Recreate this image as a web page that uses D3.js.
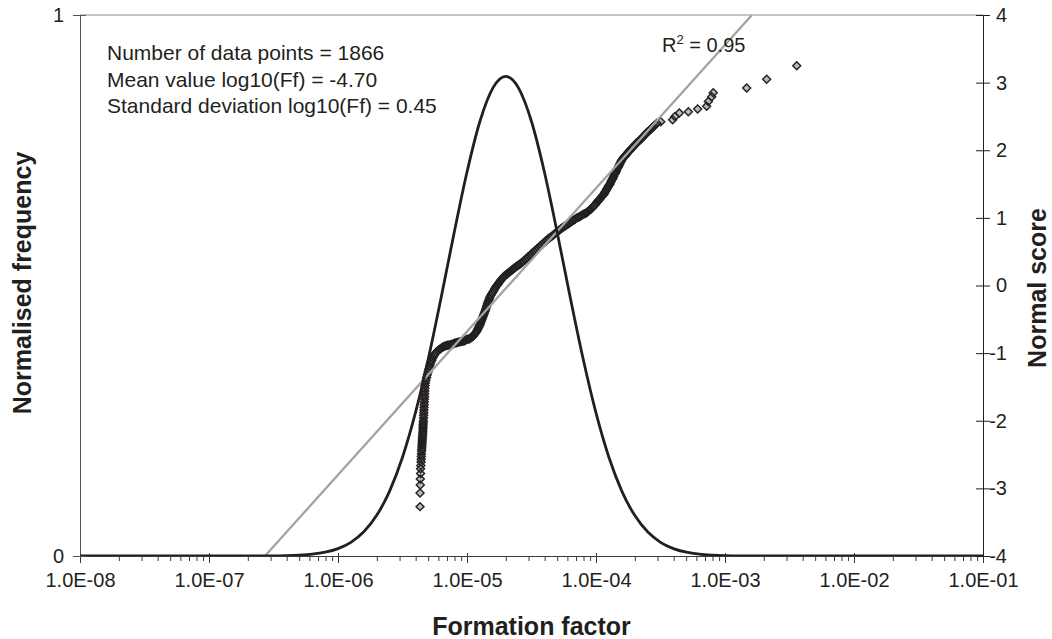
<!DOCTYPE html>
<html>
<head>
<meta charset="utf-8">
<script src="https://cdn.jsdelivr.net/npm/d3@7"></script>
<style>
body { margin: 0; background: #fff; }
svg text { font-family: "Liberation Sans", Arial, sans-serif; fill: #231f20; }
</style>
</head>
<body>
<svg id="chart" width="1052" height="639"></svg>
<script>
/* global d3 */
// tick values
var xTicks = [1e-8, 1e-7, 1e-6, 1e-5, 1e-4, 1e-3, 1e-2, 1e-1]
var freqTicks = [0, 1]
var scoreTicks = [-4, -3, -2, -1, 0, 1, 2, 3, 4]

// normal curve: [log10(Ff), normalised frequency]
var normalCurve = [
    [-8, 0], [-6.7, 0.0000], [-6.6, 0.0001], [-6.5, 0.0003], [-6.4, 0.0007], [-6.3, 0.0016],
    [-6.2, 0.0034], [-6.1, 0.0070], [-6.0, 0.0137], [-5.9, 0.0253], [-5.8, 0.0447],
    [-5.7, 0.0751], [-5.6, 0.1200], [-5.5, 0.1825], [-5.4, 0.2644], [-5.3, 0.3645],
    [-5.2, 0.4782], [-5.1, 0.5971], [-5.0, 0.7098], [-4.9, 0.8032], [-4.8, 0.8649],
    [-4.7, 0.8865],
    [-4.6, 0.8649], [-4.5, 0.8032], [-4.4, 0.7098], [-4.3, 0.5971], [-4.2, 0.4782],
    [-4.1, 0.3645], [-4.0, 0.2644], [-3.9, 0.1825], [-3.8, 0.1200], [-3.7, 0.0751],
    [-3.6, 0.0447], [-3.5, 0.0253], [-3.4, 0.0137], [-3.3, 0.0070], [-3.2, 0.0034],
    [-3.1, 0.0016], [-3.0, 0.0007], [-2.9, 0.0003], [-2.8, 0.0001], [-2.7, 0.0000], [-1, 0]
]

// trend line ends: [log10(Ff), normal score]
var trendLine = [[-6.566, -4], [-2.791, 4]]

// normal score points: [log10(Ff), normal score]
var scorePoints = [
    [-5.364, -3.27], [-5.364, -3.07], [-5.362, -2.95], [-5.362, -2.86], [-5.360, -2.78],
    [-5.360, -2.71], [-5.358, -2.66], [-5.356, -2.61], [-5.355, -2.57], [-5.354, -2.53],
    [-5.353, -2.49], [-5.352, -2.45], [-5.351, -2.42], [-5.350, -2.39], [-5.349, -2.36],
    [-5.348, -2.33], [-5.347, -2.30], [-5.346, -2.27], [-5.345, -2.24], [-5.344, -2.21],
    [-5.343, -2.18], [-5.342, -2.15], [-5.341, -2.12], [-5.341, -2.09], [-5.340, -2.06],
    [-5.339, -2.03], [-5.338, -2.00], [-5.337, -1.96], [-5.336, -1.92], [-5.335, -1.88],
    [-5.334, -1.84], [-5.333, -1.80], [-5.332, -1.76], [-5.331, -1.72], [-5.330, -1.68],
    [-5.329, -1.64], [-5.328, -1.60], [-5.327, -1.56], [-5.326, -1.52], [-5.325, -1.48],
    [-5.323, -1.44], [-5.313, -1.36], [-5.302, -1.28], [-5.290, -1.20], [-5.279, -1.13],
    [-5.264, -1.07], [-5.248, -1.01], [-5.229, -0.97], [-5.209, -0.94], [-5.186, -0.91],
    [-5.163, -0.89], [-5.140, -0.88], [-5.116, -0.87], [-5.093, -0.85], [-5.070, -0.84],
    [-5.047, -0.83], [-5.023, -0.82], [-5.003, -0.80], [-4.984, -0.79], [-4.968, -0.77],
    [-4.953, -0.75], [-4.937, -0.71], [-4.922, -0.67], [-4.910, -0.62], [-4.899, -0.58],
    [-4.890, -0.53], [-4.880, -0.48], [-4.870, -0.43], [-4.860, -0.38], [-4.850, -0.32],
    [-4.841, -0.27], [-4.832, -0.22], [-4.822, -0.17], [-4.807, -0.12], [-4.791, -0.07],
    [-4.776, -0.02], [-4.760, 0.02], [-4.745, 0.06], [-4.729, 0.10], [-4.710, 0.14],
    [-4.690, 0.17], [-4.670, 0.20], [-4.651, 0.23], [-4.632, 0.26], [-4.612, 0.29],
    [-4.593, 0.31], [-4.574, 0.34], [-4.550, 0.38], [-4.527, 0.42], [-4.504, 0.46],
    [-4.481, 0.50], [-4.458, 0.54], [-4.434, 0.58], [-4.411, 0.62], [-4.388, 0.66],
    [-4.365, 0.70], [-4.341, 0.73], [-4.322, 0.76], [-4.302, 0.79], [-4.283, 0.82],
    [-4.264, 0.85], [-4.240, 0.88], [-4.217, 0.91], [-4.194, 0.94], [-4.171, 0.97],
    [-4.148, 1.00], [-4.124, 1.02], [-4.101, 1.05], [-4.078, 1.07], [-4.058, 1.10],
    [-4.039, 1.13], [-4.020, 1.17], [-4.000, 1.21], [-3.985, 1.25], [-3.969, 1.28],
    [-3.954, 1.32], [-3.938, 1.35], [-3.927, 1.39], [-3.915, 1.43], [-3.903, 1.47],
    [-3.891, 1.50], [-3.880, 1.55], [-3.868, 1.59], [-3.857, 1.64], [-3.845, 1.68],
    [-3.834, 1.73], [-3.822, 1.77], [-3.810, 1.82], [-3.798, 1.86], [-3.783, 1.90],
    [-3.767, 1.93], [-3.752, 1.97], [-3.736, 2.00], [-3.717, 2.04], [-3.698, 2.08],
    [-3.679, 2.12], [-3.659, 2.15], [-3.640, 2.19], [-3.620, 2.23], [-3.601, 2.27],
    [-3.581, 2.30], [-3.566, 2.33], [-3.550, 2.36], [-3.527, 2.40],
    [-3.498, 2.42], [-3.406, 2.45], [-3.388, 2.50], [-3.354, 2.55], [-3.284, 2.57],
    [-3.212, 2.61], [-3.142, 2.65], [-3.129, 2.72], [-3.103, 2.79], [-3.091, 2.85],
    [-2.832, 2.92], [-2.677, 3.05], [-2.444, 3.25]
]

// further points inside the dense part of the band
var bandPoints = [
    [-5.318, -1.40], [-5.308, -1.32], [-5.296, -1.24], [-5.285, -1.165], [-5.272, -1.10],
    [-5.256, -1.04], [-5.239, -0.99], [-5.219, -0.955], [-5.198, -0.925], [-5.175, -0.90],
    [-5.152, -0.885], [-5.128, -0.875], [-5.105, -0.86], [-5.082, -0.845], [-5.059, -0.835],
    [-5.035, -0.825], [-5.013, -0.81], [-4.994, -0.795], [-4.976, -0.78], [-4.961, -0.76],
    [-4.945, -0.73], [-4.930, -0.69], [-4.916, -0.645], [-4.905, -0.60], [-4.895, -0.555],
    [-4.885, -0.505], [-4.875, -0.455], [-4.865, -0.405], [-4.855, -0.35], [-4.846, -0.295],
    [-4.837, -0.245], [-4.827, -0.195], [-4.815, -0.145], [-4.799, -0.095], [-4.784, -0.045],
    [-4.768, 0.00], [-4.753, 0.04], [-4.737, 0.08], [-4.720, 0.12], [-4.700, 0.155],
    [-4.680, 0.185], [-4.661, 0.215], [-4.642, 0.245], [-4.622, 0.275], [-4.603, 0.30],
    [-4.584, 0.325], [-4.562, 0.36], [-4.539, 0.40], [-4.516, 0.44], [-4.493, 0.48],
    [-4.470, 0.52], [-4.446, 0.56], [-4.423, 0.60], [-4.400, 0.64], [-4.377, 0.68],
    [-4.353, 0.715], [-4.332, 0.745], [-4.312, 0.775], [-4.293, 0.805], [-4.274, 0.835],
    [-4.252, 0.865], [-4.229, 0.895], [-4.206, 0.925], [-4.183, 0.955], [-4.160, 0.985],
    [-4.136, 1.01], [-4.113, 1.035], [-4.090, 1.06], [-4.068, 1.085], [-4.049, 1.115],
    [-4.030, 1.15], [-4.010, 1.19], [-3.993, 1.23], [-3.977, 1.265], [-3.962, 1.30],
    [-3.946, 1.335], [-3.933, 1.37], [-3.921, 1.41], [-3.909, 1.45], [-3.897, 1.485],
    [-3.886, 1.525], [-3.874, 1.57], [-3.863, 1.615], [-3.851, 1.66], [-3.840, 1.705],
    [-3.828, 1.75], [-3.816, 1.795], [-3.804, 1.84], [-3.791, 1.88], [-3.775, 1.915],
    [-3.760, 1.95], [-3.744, 1.985], [-3.727, 2.02], [-3.708, 2.06], [-3.689, 2.10],
    [-3.669, 2.135], [-3.650, 2.17], [-3.630, 2.21], [-3.611, 2.25], [-3.591, 2.285],
    [-3.574, 2.315], [-3.558, 2.345], [-3.539, 2.38]
]

var statLines = [
    'Number of data points = 1866',
    'Mean value log10(Ff) = -4.70',
    'Standard deviation log10(Ff) = 0.45'
]

var svg = d3.select('#chart')
var plot = { left: 80, right: 983, top: 15, bottom: 556 }

var x = d3.scaleLog().domain([1e-8, 1e-1]).range([plot.left, plot.right])
var yFreq = d3.scaleLinear().domain([0, 1]).range([plot.bottom, plot.top])
var yScore = d3.scaleLinear().domain([-4, 4]).range([plot.bottom, plot.top])

var fmtE = function(d) {
    var e = Math.round(Math.log10(d))
    return '1.0E' + (e < 0 ? '-' : '+') + String(Math.abs(e)).padStart(2, '0')
}

svg.append('clipPath').attr('id', 'plotClip')
    .append('rect')
    .attr('x', plot.left).attr('y', plot.top)
    .attr('width', plot.right - plot.left).attr('height', plot.bottom - plot.top)

// top border of plot area
svg.append('line')
    .attr('x1', plot.left).attr('x2', plot.right)
    .attr('y1', plot.top).attr('y2', plot.top)
    .attr('stroke', '#8a8a8a').attr('stroke-width', 1)

// minor log ticks
var minorTicks = []
for (var e = -8; e < -1; e++) {
    for (var m = 2; m <= 9; m++) minorTicks.push(m * Math.pow(10, e))
}
var gMinor = svg.append('g')
    .attr('transform', 'translate(0,' + plot.bottom + ')')
    .call(d3.axisBottom(x).tickValues(minorTicks).tickSize(5).tickSizeOuter(0).tickFormat(''))
gMinor.select('.domain').remove()
gMinor.selectAll('.tick line').attr('stroke', '#3a3a3a')

var gx = svg.append('g')
    .attr('transform', 'translate(0,' + plot.bottom + ')')
    .call(d3.axisBottom(x).tickValues(xTicks).tickSize(7).tickSizeOuter(0).tickFormat(fmtE))
gx.select('.domain').attr('stroke', '#3a3a3a')
gx.selectAll('.tick line').attr('y1', -3).attr('stroke', '#3a3a3a')
gx.selectAll('.tick text').attr('y', 17).style('font-size', '20px')

var gl = svg.append('g')
    .attr('transform', 'translate(' + plot.left + ',0)')
    .call(d3.axisLeft(yFreq).tickValues(freqTicks).tickSize(7).tickSizeOuter(0).tickFormat(d3.format('d')))
gl.select('.domain').attr('stroke', '#555')
gl.selectAll('.tick line').attr('x1', 6).attr('stroke', '#555')
gl.selectAll('.tick text').attr('x', -16).style('font-size', '20px')

var gr = svg.append('g')
    .attr('transform', 'translate(' + plot.right + ',0)')
    .call(d3.axisRight(yScore).tickValues(scoreTicks).tickSize(7).tickSizeOuter(0).tickFormat(function(d) { return String(d) }))
gr.select('.domain').attr('stroke', '#231f20')
gr.selectAll('.tick line').attr('x1', -7).attr('stroke', '#231f20')
gr.selectAll('.tick text').attr('x', 24).attr('text-anchor', 'end').style('font-size', '20px')

var plotArea = svg.append('g').attr('clip-path', 'url(#plotClip)')

// normal score diamonds: fills first, outlines on top, so the dense band reads dark
var allPoints = scorePoints.concat(bandPoints)
var r = 4
var diamond = 'M0,' + (-r) + 'L' + r + ',0L0,' + r + 'L' + (-r) + ',0Z'
var placePoint = function(d) {
    return 'translate(' + x(Math.pow(10, d[0])) + ',' + yScore(d[1]) + ')'
}
plotArea.append('g').selectAll('path')
    .data(allPoints)
    .enter()
    .append('path')
    .attr('d', diamond)
    .attr('transform', placePoint)
    .attr('fill', '#b9b9b9')
plotArea.append('g').selectAll('path')
    .data(allPoints)
    .enter()
    .append('path')
    .attr('d', diamond)
    .attr('transform', placePoint)
    .attr('fill', 'none')
    .attr('stroke', '#231f20')
    .attr('stroke-width', 1.4)

// trend line
plotArea.append('path')
    .datum(trendLine)
    .attr('d', d3.line()
        .x(function(d) { return x(Math.pow(10, d[0])) })
        .y(function(d) { return yScore(d[1]) }))
    .attr('fill', 'none')
    .attr('stroke', '#a3a3a3')
    .attr('stroke-width', 2.3)

// normal distribution curve
plotArea.append('path')
    .datum(normalCurve)
    .attr('d', d3.line()
        .curve(d3.curveMonotoneX)
        .x(function(d) { return x(Math.pow(10, d[0])) })
        .y(function(d) { return yFreq(d[1]) }))
    .attr('fill', 'none')
    .attr('stroke', '#231f20')
    .attr('stroke-width', 2.8)

// stats text
svg.append('g').selectAll('text')
    .data(statLines)
    .enter()
    .append('text')
    .attr('x', 107)
    .attr('y', function(d, i) { return 60 + i * 26.7 })
    .style('font-size', '21px')
    .text(function(d) { return d })

var r2 = svg.append('text')
    .attr('x', 662).attr('y', 52)
    .style('font-size', '20px')
r2.append('tspan').text('R')
r2.append('tspan').attr('dy', -8).style('font-size', '13px').text('2')
r2.append('tspan').attr('dy', 8).text(' = 0.95')

// axis titles
svg.append('text')
    .attr('x', (plot.left + plot.right) / 2).attr('y', 635)
    .attr('text-anchor', 'middle')
    .style('font-size', '25px').style('font-weight', 'bold')
    .text('Formation factor')

svg.append('text')
    .attr('transform', 'translate(31,283) rotate(-90)')
    .attr('text-anchor', 'middle')
    .style('font-size', '25px').style('font-weight', 'bold')
    .text('Normalised frequency')

svg.append('text')
    .attr('transform', 'translate(1046,288) rotate(-90)')
    .attr('text-anchor', 'middle')
    .style('font-size', '25px').style('font-weight', 'bold')
    .text('Normal score')
</script>
</body>
</html>
